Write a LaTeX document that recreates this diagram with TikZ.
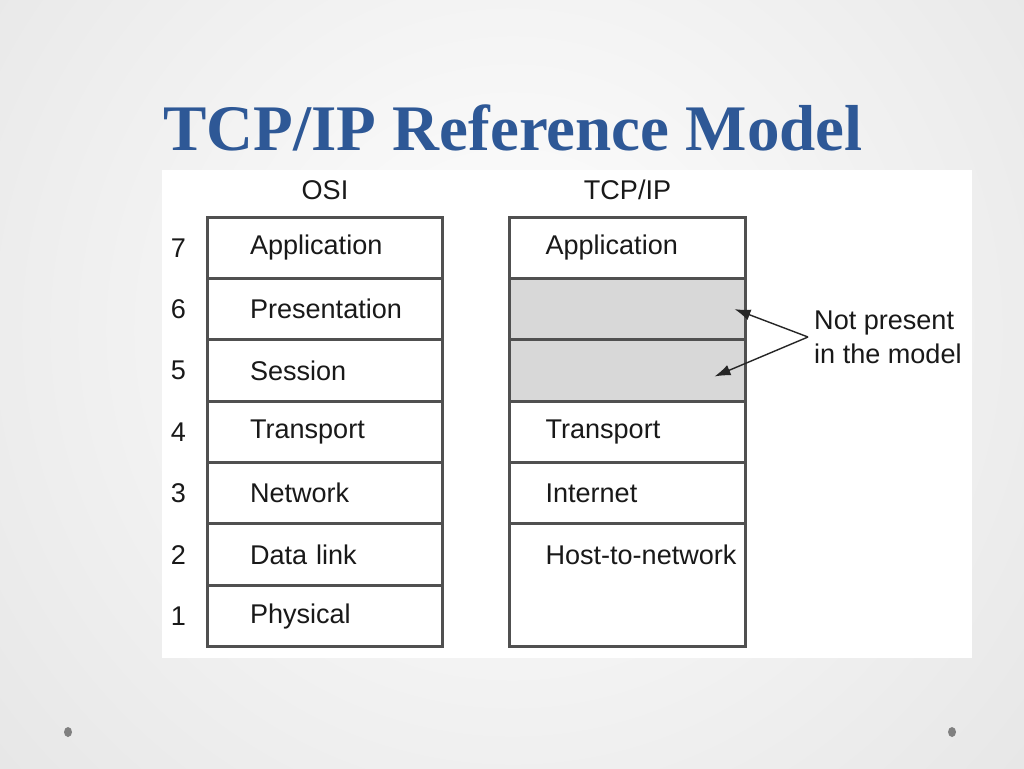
\documentclass[tikz,border=0pt]{standalone}
\usepackage{fontspec}
\setmainfont{Liberation Serif}
\setsansfont{Liberation Sans}
\usetikzlibrary{positioning,arrows.meta}
\definecolor{titleblue}{RGB}{46,88,150}
\definecolor{boxline}{RGB}{80,80,80}
\definecolor{emptyfill}{RGB}{216,216,216}
\definecolor{dotgray}{RGB}{128,128,128}
\tikzset{
  osilayer/.style={draw=boxline, line width=1.7pt, outer sep=0pt, minimum width=4.72cm, minimum height=1.228cm,
                   text width=3.0cm, inner xsep=0.86cm, align=left, text=black!90,
                   font=\sffamily\fontsize{15.4}{18}\selectfont},
  tcplayer/.style={osilayer, text width=3.28cm, inner xsep=0.72cm},
  empty/.style={tcplayer, fill=emptyfill},
  head/.style={text=black!90, font=\sffamily\fontsize{15.4}{18}\selectfont},
  note/.style={head, align=left, font=\sffamily\fontsize{15.4}{19.4}\selectfont},
  pointer/.style={-{Latex[length=3.2mm, width=2.2mm]}, line width=0.8pt, black!85},
}

\begin{document}
\begin{tikzpicture}[x=0.02cm, y=-0.02cm]

% slide background
\useasboundingbox (0,0) rectangle (1024,768);
\begin{scope}
  \clip (0,0) rectangle (1024,768);
  \shade[inner color=white, outer color=black!14] (512,330) circle [radius=20cm];
\end{scope}
\fill[white] (162,170) rectangle (972,658);
\fill[dotgray] (68,732) ellipse [x radius=0.08cm, y radius=0.1cm];
\fill[dotgray] (952,732) ellipse [x radius=0.08cm, y radius=0.1cm];

% Title
\node[text=titleblue, font=\rmfamily\bfseries\fontsize{37}{40}\selectfont] (title) at (513,128) {TCP/IP Reference Model};

% OSI stack
\node[osilayer, anchor=north] (osi7) at (325,217) {Application};
\node[osilayer, below=0pt of osi7] (osi6) {Presentation};
\node[osilayer, below=0pt of osi6] (osi5) {Session};
\node[osilayer, below=0pt of osi5] (osi4) {Transport};
\node[osilayer, below=0pt of osi4] (osi3) {Network};
\node[osilayer, below=0pt of osi3] (osi2) {Data link};
\node[osilayer, below=0pt of osi2] (osi1) {Physical};
\node[head, above=0.22cm of osi7] (osihead) {OSI};
\foreach \n in {1,...,7}
  \node[head, left=0.3cm of osi\n] (num\n) {\n};

% TCP/IP stack
\node[tcplayer, anchor=north] (tcp7) at (627.5,217) {Application};
\node[empty, below=0pt of tcp7] (tcp6) {};
\node[empty, below=0pt of tcp6] (tcp5) {};
\node[tcplayer, below=0pt of tcp5] (tcp4) {Transport};
\node[tcplayer, below=0pt of tcp4] (tcp3) {Internet};
\node[tcplayer, below=0pt of tcp3, minimum height=2.456cm, text depth=1.228cm] (tcp2) {\mbox{Host-to-network}};
\node[head, above=0.22cm of tcp7] (tcphead) {TCP/IP};

% Missing layers
\coordinate (fork) at (808,337);
\node[note, anchor=west] (missing) at (fork) {Not present\\in the model};
\draw[pointer] (fork) -- ([xshift=-0.22cm]tcp6.east);
\draw[pointer] (fork) -- ([xshift=-0.62cm, yshift=-0.12cm]tcp5.east);

\end{tikzpicture}
\end{document}
